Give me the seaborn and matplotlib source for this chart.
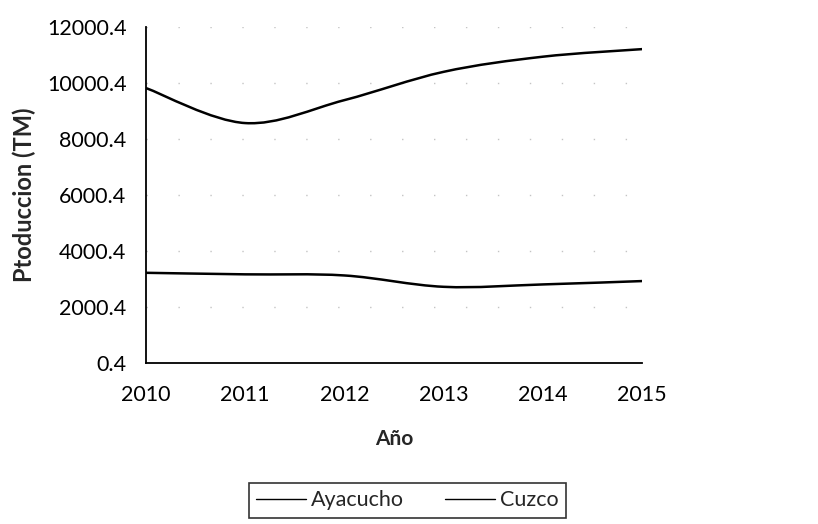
import numpy as np
import pandas as pd
import seaborn as sns
import matplotlib
matplotlib.use("Agg")
import matplotlib.pyplot as plt
from matplotlib.path import Path
from matplotlib.patches import PathPatch
from matplotlib.lines import Line2D

years = [2010, 2011, 2012, 2013, 2014, 2015]
ayacucho = [9820, 8570, 9390, 10400, 10940, 11210]
cuzco = [3225, 3170, 3130, 2725, 2810, 2930]
series_names = ["Ayacucho", "Cuzco"]
y_ticks = [0.4, 2000.4, 4000.4, 6000.4, 8000.4, 10000.4, 12000.4]

df = pd.DataFrame({"Año": years * 2,
                   "Produccion": ayacucho + cuzco,
                   "Serie": [series_names[0]] * len(years) + [series_names[1]] * len(years)})

sns.set_theme(style="white")
plt.rcParams["font.family"] = ["Lato", "DejaVu Sans"]

fig = plt.figure(figsize=(8.18, 5.24), dpi=100)
ax = fig.add_axes([0.1785, 0.307, 0.6065, 0.6415])

sns.lineplot(data=df, x="Año", y="Produccion", hue="Serie",
             palette=["black", "black"], ax=ax, legend=False, linewidth=1.6)

# smooth (Excel-like) rendering of each series via Bezier curves in data space
for line in ax.get_lines():
    xy = line.get_xydata()
    n = len(xy)
    verts = [tuple(xy[0])]
    codes = [Path.MOVETO]
    for i in range(n - 1):
        p0 = xy[max(i - 1, 0)]
        p1 = xy[i]
        p2 = xy[i + 1]
        p3 = xy[min(i + 2, n - 1)]
        c1 = p1 + (p2 - p0) / 6.0
        c2 = p2 - (p3 - p1) / 6.0
        verts += [tuple(c1), tuple(c2), tuple(p2)]
        codes += [Path.CURVE4] * 3
    ax.add_patch(PathPatch(Path(verts, codes), facecolor="none",
                           edgecolor="black", linewidth=1.8,
                           transform=ax.transData))
    line.set_alpha(0)

ax.set_xlim(2010, 2015)
ax.set_ylim(0.4, 12000.4)
ax.set_yticks(y_ticks)
ax.set_yticklabels([f"{v:.1f}" for v in y_ticks])
ax.set_xticks(years)
ax.set_xticklabels([str(y) for y in years])

for v in y_ticks[1:]:
    ax.axhline(v, color="#c4c4c4", linewidth=1.0, linestyle=(0, (1, 22)), zorder=0)

ax.tick_params(axis="both", length=0, labelsize=15.5, colors="black")
ax.tick_params(axis="y", pad=14)
ax.tick_params(axis="x", pad=16)

for s in ["top", "right"]:
    ax.spines[s].set_visible(False)
for s in ["left", "bottom"]:
    ax.spines[s].set_color("black")
    ax.spines[s].set_linewidth(1.3)

ax.set_xlabel("Año", fontsize=15, fontweight="bold", labelpad=17)
ax.set_ylabel("Ptoduccion (TM)", fontsize=17, fontweight="bold", labelpad=8)

handles = [Line2D([0], [0], color="black", linewidth=1.0) for _ in series_names]
leg = fig.legend(handles, series_names, loc="upper center",
                 bbox_to_anchor=(0.498, 0.079), ncol=2, fontsize=15.5,
                 frameon=True, fancybox=False, edgecolor="black",
                 handlelength=2.3, handletextpad=0.25, columnspacing=1.9,
                 borderpad=0.35, borderaxespad=0)
leg.get_frame().set_linewidth(1.2)

fig.savefig("out.png", dpi=100, facecolor="white")
